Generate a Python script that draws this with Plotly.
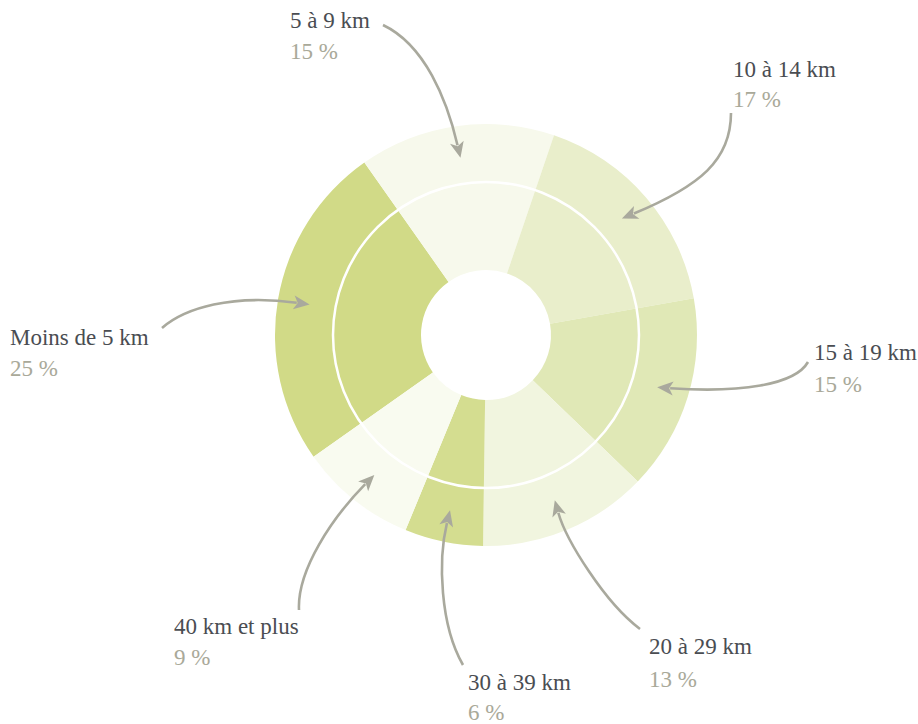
import math
import plotly.graph_objects as go

# ---------------- data ----------------
categories = ["Moins de 5 km", "5 à 9 km", "10 à 14 km", "15 à 19 km",
              "20 à 29 km", "30 à 39 km", "40 km et plus"]
values = [25, 15, 17, 15, 13, 6, 9]
pct_labels = ["25 %", "15 %", "17 %", "15 %", "13 %", "6 %", "9 %"]
colors = ["#d1da87", "#f7f9ec", "#e9eecb", "#e0e8b6", "#f1f5df", "#d4dd90", "#f9fbf0"]

# ---------------- layout constants ----------------
W, H = 918, 724
CX, CY, R = 486, 335, 211
HOLE_R = 65
RING_R = 153
TIP_R = 179
ROT = 234.8
LABEL_COLOR = "#4a4d52"
PCT_COLOR = "#a9a999"
ARROW_COLOR = "#a9a99d"
FONT = "Liberation Serif"
FS = 23

# label position (left x, label centre y, percent centre y)
label_pos = [
    (8, 337, 368),
    (288, 20, 51),
    (731, 69, 99),
    (812, 352, 384),
    (647, 646, 679),
    (466, 682, 712),
    (172, 626, 657),
]
# arrow start and the two bezier control points
arrow_ctrl = [
    ((162, 328), (185, 308), (232, 294)),
    ((383, 25), (425, 45), (447, 100)),
    ((731, 113), (731, 160), (700, 186)),
    ((808, 362), (795, 385), (740, 393)),
    ((640, 629), (605, 603), (566, 540)),
    ((463, 665), (440, 625), (438, 560)),
    ((299, 610), (297, 570), (332, 518)),
]

fig = go.Figure()
fig.add_trace(go.Pie(
    labels=categories, values=values, sort=False, direction="clockwise",
    rotation=ROT, hole=HOLE_R / R, textinfo="none", hoverinfo="label+percent",
    marker=dict(colors=colors, line=dict(width=0)), showlegend=False,
    domain=dict(x=[(CX - R) / W, (CX + R) / W],
                y=[(H - (CY + R)) / H, (H - (CY - R)) / H]),
))

shapes = []
annotations = []
total = sum(values)
cum = 0
for i, v in enumerate(values):
    mid = math.radians(ROT + 360 * (cum + v / 2) / total)
    cum += v
    tx = CX + TIP_R * math.sin(mid)
    ty = CY - TIP_R * math.cos(mid)
    (sx, sy), (c1x, c1y), (c2x, c2y) = arrow_ctrl[i]
    dx, dy = tx - c2x, ty - c2y
    d = math.hypot(dx, dy)
    ux, uy = dx / d, dy / d
    hl, hw = 16, 7
    bx, by = tx - ux * hl, ty - uy * hl
    ex, ey = tx - ux * (hl - 3), ty - uy * (hl - 3)
    shapes.append(dict(type="path", xref="x", yref="y", layer="above",
                       path=f"M {sx},{sy} C {c1x},{c1y} {c2x},{c2y} {ex:.2f},{ey:.2f}",
                       line=dict(color=ARROW_COLOR, width=2.6)))
    p1 = (bx - uy * hw, by + ux * hw)
    p2 = (bx + uy * hw, by - ux * hw)
    notch = (tx - ux * (hl - 4), ty - uy * (hl - 4))
    shapes.append(dict(type="path", xref="x", yref="y", layer="above",
                       path=(f"M {tx:.2f},{ty:.2f} L {p1[0]:.2f},{p1[1]:.2f} "
                             f"L {notch[0]:.2f},{notch[1]:.2f} L {p2[0]:.2f},{p2[1]:.2f} Z"),
                       fillcolor=ARROW_COLOR, line=dict(width=0)))
    lx, ly, py = label_pos[i]
    annotations.append(dict(x=lx, y=ly, xref="x", yref="y", text=categories[i],
                            showarrow=False, xanchor="left", yanchor="middle",
                            font=dict(family=FONT, size=FS, color=LABEL_COLOR)))
    annotations.append(dict(x=lx, y=py, xref="x", yref="y", text=pct_labels[i],
                            showarrow=False, xanchor="left", yanchor="middle",
                            font=dict(family=FONT, size=FS, color=PCT_COLOR)))

# white inner ring line
shapes.append(dict(type="circle", xref="x", yref="y", layer="above",
                   x0=CX - RING_R, x1=CX + RING_R, y0=CY - RING_R, y1=CY + RING_R,
                   line=dict(color="white", width=2.5)))

fig.update_layout(
    width=W, height=H, margin=dict(l=0, r=0, t=0, b=0),
    paper_bgcolor="white", plot_bgcolor="rgba(0,0,0,0)",
    xaxis=dict(range=[0, W], visible=False, fixedrange=True),
    yaxis=dict(range=[H, 0], visible=False, fixedrange=True),
    shapes=shapes, annotations=annotations, showlegend=False,
)

fig.write_html("out.html", config={"displayModeBar": False},
               post_script="document.body.style.margin='0';"
                           "document.body.style.overflow='hidden';")
